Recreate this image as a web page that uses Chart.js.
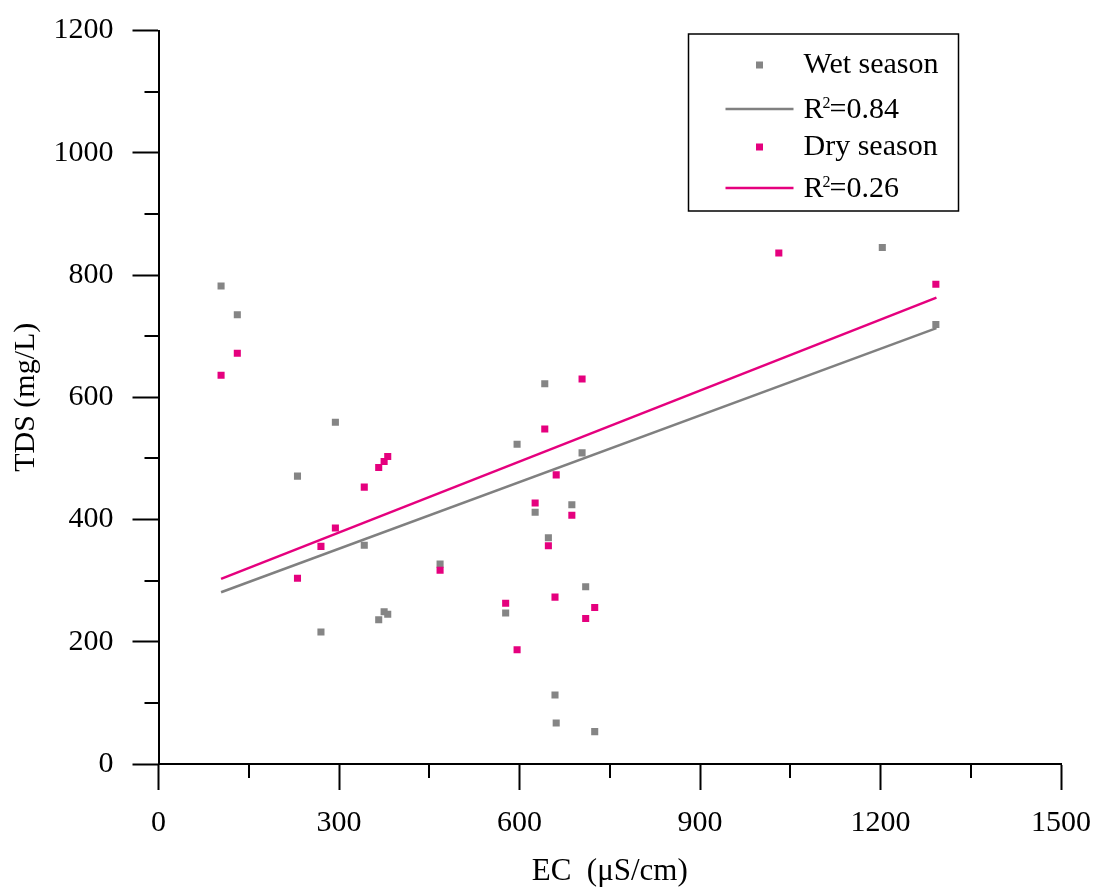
<!DOCTYPE html>
<html lang="en">
<head>
<meta charset="UTF-8">
<title>TDS vs EC</title>
<script src="https://cdn.jsdelivr.net/npm/chart.js"></script>
<style>
  body { margin: 0; background: #fff; }
  #wrap { width: 1095px; height: 893px; }
</style>
</head>
<body>
<div id="wrap"><canvas id="chart"></canvas></div>
<script>
// wet season samples
const wetEC  = [104, 131, 231, 270, 294, 342, 366, 375, 381, 468, 577, 596, 626, 642, 648, 659, 661, 687, 704, 710, 725, 1203, 1292];
const wetTDS = [782, 735, 471, 216, 559, 358, 236, 249, 245, 327, 247, 523, 412, 622, 370, 113, 67, 424, 509, 290, 53, 845, 719];
// dry season samples
const dryEC  = [104, 131, 231, 270, 294, 342, 366, 375, 381, 468, 577, 596, 626, 642, 648, 659, 661, 687, 704, 710, 725, 1031, 1292];
const dryTDS = [636, 672, 304, 356, 386, 453, 485, 495, 503, 317, 263, 187, 427, 548, 357, 273, 473, 407, 630, 238, 256, 836, 785];
// fitted lines (end points)
const fitEC     = [104, 1293];
const wetFitTDS = [281, 713];
const dryFitTDS = [303, 763];
const wetR2 = '0.84';
const dryR2 = '0.26';

const xTicks = [0, 300, 600, 900, 1200, 1500];
const xMinor = [150, 450, 750, 1050, 1350];
const yTicks = [0, 200, 400, 600, 800, 1000, 1200];
const yMinor = [100, 300, 500, 700, 900, 1100];

const wetColor = '#858585';
const dryColor = '#e5007e';
const serif = '"Liberation Serif", "Times New Roman", serif';

function pts(xs, ys) {
    return xs.map((x, i) => ({ x: x, y: ys[i] }));
}

// short unlabeled ticks between the major ones
const minorTicks = {
    id: 'minorTicks',
    afterDraw(chart) {
        const ctx = chart.ctx;
        const xs = chart.scales.x, ys = chart.scales.y;
        const a = chart.chartArea;
        ctx.save();
        ctx.strokeStyle = '#000';
        ctx.lineWidth = 2;
        ctx.beginPath();
        xMinor.forEach(v => {
            const px = Math.round(xs.getPixelForValue(v));
            ctx.moveTo(px, a.bottom);
            ctx.lineTo(px, a.bottom + 14);
        });
        yMinor.forEach(v => {
            const py = Math.round(ys.getPixelForValue(v));
            ctx.moveTo(a.left - 14, py);
            ctx.lineTo(a.left, py);
        });
        ctx.stroke();
        ctx.restore();
    }
};

// boxed legend in the upper right, with R² superscripts
const legendBox = {
    id: 'legendBox',
    afterDraw(chart) {
        const ctx = chart.ctx;
        const a = chart.chartArea;
        const x0 = a.left + 530, y0 = 34, w = 270, h = 177;
        const rows = [31, 74, 113, 153];
        ctx.save();
        ctx.strokeStyle = '#000';
        ctx.lineWidth = 1.5;
        ctx.strokeRect(x0, y0, w, h);
        chart.data.datasets.forEach((ds, i) => {
            const y = y0 + rows[i];
            const tx = x0 + 115;
            if (ds.showLine) {
                ctx.strokeStyle = ds.borderColor;
                ctx.lineWidth = 2.5;
                ctx.beginPath();
                ctx.moveTo(x0 + 37, y + 1);
                ctx.lineTo(x0 + 105, y + 1);
                ctx.stroke();
                const base = y + 10;
                ctx.fillStyle = '#000';
                ctx.textBaseline = 'alphabetic';
                ctx.font = '30px ' + serif;
                ctx.fillText('R', tx, base);
                const rw = ctx.measureText('R').width;
                ctx.font = '16px ' + serif;
                ctx.fillText('2', tx + rw - 1, base - 10);
                const sw = ctx.measureText('2').width;
                ctx.font = '30px ' + serif;
                ctx.fillText('=' + ds.r2, tx + rw + sw - 2, base);
            } else {
                ctx.fillStyle = ds.backgroundColor;
                ctx.fillRect(x0 + 71 - 3.5, y - 3.5, 7, 7);
                ctx.fillStyle = '#000';
                ctx.textBaseline = 'middle';
                ctx.font = '30px ' + serif;
                ctx.fillText(ds.label, tx, y);
            }
        });
        ctx.restore();
    }
};

const ctx = document.getElementById('chart').getContext('2d');
new Chart(ctx, {
    type: 'scatter',
    data: {
        datasets: [
            {
                label: 'Wet season',
                data: pts(wetEC, wetTDS),
                backgroundColor: wetColor,
                pointStyle: 'rect',
                pointRadius: 5,
                borderWidth: 0,
                order: 2
            },
            {
                label: 'R²=' + wetR2,
                r2: wetR2,
                data: pts(fitEC, wetFitTDS),
                showLine: true,
                borderColor: '#808080',
                borderWidth: 2.5,
                pointRadius: 0,
                order: 3
            },
            {
                label: 'Dry season',
                data: pts(dryEC, dryTDS),
                backgroundColor: dryColor,
                pointStyle: 'rect',
                pointRadius: 5,
                borderWidth: 0,
                order: 1
            },
            {
                label: 'R²=' + dryR2,
                r2: dryR2,
                data: pts(fitEC, dryFitTDS),
                showLine: true,
                borderColor: dryColor,
                borderWidth: 2.5,
                pointRadius: 0,
                order: 4
            }
        ]
    },
    options: {
        responsive: true,
        maintainAspectRatio: false,
        devicePixelRatio: 1,
        animation: false,
        layout: { padding: { top: 30.5, right: 34, bottom: 0, left: 0 } },
        plugins: {
            legend: { display: false },
            tooltip: { enabled: false }
        },
        scales: {
            x: {
                type: 'linear',
                min: 0,
                max: 1500,
                afterBuildTicks: s => { s.ticks = xTicks.map(v => ({ value: v })); },
                afterFit: s => { s.height = 129; s.paddingLeft = 0; s.paddingRight = 0; },
                border: { display: true, color: '#000', width: 2 },
                grid: { drawOnChartArea: false, drawTicks: true, tickLength: 26, tickWidth: 2, tickColor: '#000' },
                ticks: {
                    color: '#000', padding: 15, maxRotation: 0,
                    font: { family: serif, size: 30 },
                    callback: v => String(v)
                },
                title: {
                    display: true,
                    text: 'EC  (μS/cm)',
                    color: '#000',
                    font: { family: serif, size: 31 },
                    padding: { top: 0, bottom: 3 }
                }
            },
            y: {
                type: 'linear',
                min: 0,
                max: 1200,
                afterBuildTicks: s => { s.ticks = yTicks.map(v => ({ value: v })); },
                afterFit: s => { s.width = 158.5; s.paddingTop = 0; s.paddingBottom = 0; },
                border: { display: true, color: '#000', width: 2 },
                grid: { drawOnChartArea: false, drawTicks: true, tickLength: 26, tickWidth: 2, tickColor: '#000' },
                ticks: {
                    color: '#000', padding: 19,
                    font: { family: serif, size: 30 },
                    callback: v => String(v)
                },
                title: {
                    display: true,
                    text: 'TDS (mg/L)',
                    color: '#000',
                    font: { family: serif, size: 30 },
                    padding: { top: 8, bottom: 0 }
                }
            }
        }
    },
    plugins: [minorTicks, legendBox]
});
</script>
</body>
</html>
